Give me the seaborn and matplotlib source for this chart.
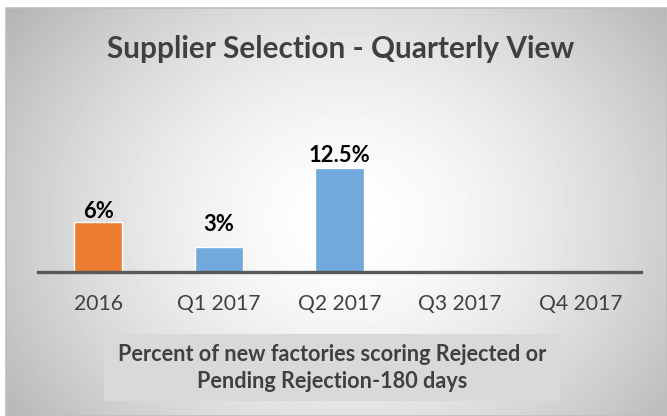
import matplotlib
matplotlib.use("Agg")
import matplotlib.pyplot as plt
import numpy as np
import pandas as pd
import seaborn as sns
from matplotlib.patches import Rectangle

categories = ["2016", "Q1 2017", "Q2 2017", "Q3 2017", "Q4 2017"]
values = [6, 3, 12.5, np.nan, np.nan]
value_labels = ["6%", "3%", "12.5%", "", ""]
title = "Supplier Selection - Quarterly View"
caption = "Percent of new factories scoring Rejected or\nPending Rejection-180 days"

bar_colors = ["#ED7D31", "#71A9DC", "#71A9DC", "#71A9DC", "#71A9DC"]
label_gap_px = [4, 16, 6, 0, 0]

W, H = 667, 416
sns.set_theme(style="white")
plt.rcParams["font.family"] = ["Lato", "DejaVu Sans"]

fig = plt.figure(figsize=(W / 100, H / 100), dpi=100)
fig.patch.set_facecolor("white")

# radial grey gradient behind the chart
bg = fig.add_axes([6 / W, 0, (W - 6) / W, (H - 8) / H], zorder=-2)
yy, xx = np.mgrid[0:408, 0:661]
dx = (xx - 340) / 333
dy = (yy - 212) / 280
d = np.sqrt(dx ** 2 + dy ** 2)
gray = np.clip(255 - 52 * d ** 1.6, 0, 255) / 255
bg.imshow(gray, cmap="gray", vmin=0, vmax=1, aspect="auto", interpolation="bilinear")
bg.set_axis_off()
fig.add_artist(Rectangle((6 / W, 0), (W - 6) / W, (H - 8) / H, transform=fig.transFigure,
                         fill=False, edgecolor="#bfbfbf", lw=1.2))

ax = fig.add_axes([38 / W, (H - 272) / H, 603 / W, 166 / H])
ax.patch.set_alpha(0)
df = pd.DataFrame({"category": categories, "value": values})
sns.barplot(data=df, x="category", y="value", hue="category", palette=bar_colors,
            width=0.4, saturation=1, legend=False, ax=ax)
ax.set_xlim(-0.5, 4.5)
ax.set_ylim(0, 20)

for i, (v, lab) in enumerate(zip(values, value_labels)):
    if lab:
        ax.annotate(lab, (i, v), xytext=(0, label_gap_px[i] * 0.72), textcoords="offset points",
                    ha="center", va="baseline", fontsize=15.8, fontweight="bold", color="black")

for side in ["top", "right", "left"]:
    ax.spines[side].set_visible(False)
ax.spines["bottom"].set_color("#595959")
ax.spines["bottom"].set_linewidth(2.4)
ax.set_yticks([])
ax.set_xlabel("")
ax.set_ylabel("")
ax.tick_params(axis="x", length=0, pad=16, labelsize=15.2, labelcolor="#404040")

fig.text(341 / W, (H - 58) / H, title, ha="center", va="baseline", fontsize=21.4,
         fontweight="bold", color="#404040")

fig.add_artist(Rectangle((104 / W, (H - 401) / H), 456 / W, 67 / H, transform=fig.transFigure,
                         facecolor="#d9d9d9", edgecolor="none", zorder=1))
fig.text(332 / W, (H - 368) / H, caption, ha="center", va="center", fontsize=15.6,
         fontweight="bold", color="#404040", linespacing=1.3, zorder=2)

plt.savefig("out.png", dpi=100)
plt.close()
